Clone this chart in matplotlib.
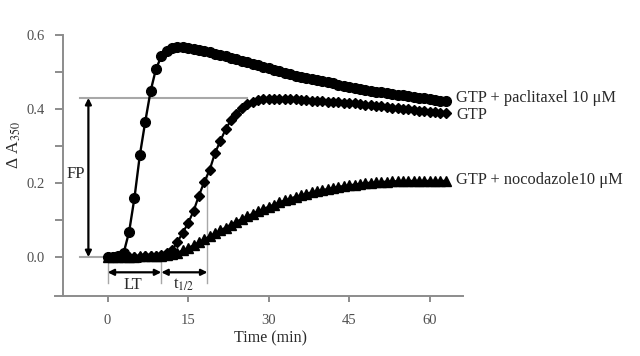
import matplotlib
matplotlib.use('Agg')
import matplotlib.pyplot as plt

# absorbance readings, one per minute
time_min = list(range(64))

paclitaxel = [0.000, 0.000, 0.002, 0.012, 0.068, 0.160, 0.275, 0.365, 0.448, 0.508,
              0.542, 0.557, 0.564, 0.567, 0.567, 0.565, 0.562, 0.559, 0.556, 0.553,
              0.549, 0.546, 0.542, 0.538, 0.534, 0.530, 0.526, 0.522, 0.518, 0.514,
              0.510, 0.506, 0.502, 0.498, 0.494, 0.490, 0.487, 0.484, 0.481, 0.478,
              0.475, 0.472, 0.469, 0.466, 0.463, 0.460, 0.457, 0.454, 0.451, 0.449,
              0.447, 0.445, 0.443, 0.441, 0.439, 0.437, 0.435, 0.433, 0.431, 0.429,
              0.427, 0.425, 0.423, 0.421]

gtp = [0.000, 0.000, 0.000, 0.000, 0.001, 0.001, 0.001, 0.002, 0.002, 0.003,
       0.006, 0.010, 0.018, 0.041, 0.066, 0.092, 0.124, 0.166, 0.203, 0.235,
       0.281, 0.314, 0.346, 0.370, 0.387, 0.402, 0.413, 0.420, 0.425, 0.427,
       0.428, 0.428, 0.428, 0.427, 0.427, 0.426, 0.425, 0.424, 0.423, 0.422,
       0.421, 0.420, 0.419, 0.418, 0.417, 0.416, 0.415, 0.413, 0.412, 0.410,
       0.409, 0.407, 0.405, 0.404, 0.402, 0.400, 0.399, 0.397, 0.396, 0.394,
       0.393, 0.391, 0.390, 0.388]

nocodazole = [0.000, 0.000, 0.000, 0.000, 0.001, 0.001, 0.002, 0.002, 0.003, 0.003,
              0.004, 0.005, 0.008, 0.012, 0.018, 0.025, 0.032, 0.040, 0.048, 0.056,
              0.064, 0.072, 0.080, 0.088, 0.096, 0.103, 0.110, 0.117, 0.124, 0.130,
              0.136, 0.142, 0.148, 0.153, 0.158, 0.163, 0.167, 0.171, 0.175, 0.178,
              0.181, 0.184, 0.187, 0.190, 0.192, 0.194, 0.196, 0.198, 0.200, 0.201,
              0.202, 0.203, 0.204, 0.205, 0.205, 0.206, 0.206, 0.206, 0.206, 0.206,
              0.206, 0.206, 0.206, 0.206]

series_labels = ['GTP + paclitaxel 10 \u03bcM', 'GTP', 'GTP + nocodazole10 \u03bcM']
label_y = [0.429, 0.384, 0.207]

x_ticks = [0, 15, 30, 45, 60]
y_ticks = [0.0, 0.1, 0.2, 0.3, 0.4, 0.5, 0.6]
y_ticklabels = ['0.0', '', '0.2', '', '0.4', '', '0.6']

# annotation levels
fp_level = 0.43
lag_time = 10.0
half_time = 18.6

plt.rcParams['font.family'] = ['Liberation Serif', 'DejaVu Serif']
plt.rcParams['mathtext.fontset'] = 'stix'

axis_grey = '#8c8c8c'
guide_grey = '#a8a8a8'
text_col = '#2a2a2a'

fig = plt.figure(figsize=(6.4, 3.56), dpi=100)
ax = fig.add_axes([55 / 640, 1 - 296 / 356, (463 - 55) / 640, (296 - 35) / 356])
ax.set_xlim(-9.8, 66.2)
ax.set_ylim(-0.105, 0.6)

for s in ['top', 'right']:
    ax.spines[s].set_visible(False)
ax.spines['left'].set_position(('data', -8.34))
for s in ['left', 'bottom']:
    ax.spines[s].set_color(axis_grey)
    ax.spines[s].set_linewidth(1.4)

ax.set_xticks(x_ticks)
ax.set_yticks(y_ticks)
ax.set_yticklabels(y_ticklabels)
ax.tick_params(axis='both', direction='out', color=axis_grey, width=1.4,
               labelcolor='#505050', labelsize=10.5)
ax.tick_params(axis='x', length=4, pad=9)
ax.tick_params(axis='y', length=6, pad=7)

# guide lines
ax.plot([-5.1, 26], [fp_level, fp_level], color=guide_grey, lw=1.5, zorder=1)
ax.plot([-5.1, 0], [0, 0], color=guide_grey, lw=1.5, zorder=1)
ax.plot([0, 0], [0, -0.071], color=guide_grey, lw=1, zorder=1)
ax.plot([lag_time, lag_time], [0, -0.071], color=guide_grey, lw=1, zorder=1)
ax.plot([half_time, half_time], [0.227, -0.071], color=guide_grey, lw=1, zorder=1)

# curves
ax.plot(time_min, nocodazole, '-^', color='black', ms=6.5, lw=1.6, zorder=3, clip_on=False)
ax.plot(time_min, gtp, '-D', color='black', ms=5.5, lw=1.6, zorder=4, clip_on=False)
ax.plot(time_min, paclitaxel, '-o', color='black', ms=7, lw=1.7, zorder=5, clip_on=False)

arrow = dict(arrowstyle='<|-|>', color='black', lw=1.6, mutation_scale=9,
             shrinkA=0, shrinkB=0)
ax.annotate('', xy=(-3.58, fp_level), xytext=(-3.58, 0.0), arrowprops=arrow)
ax.annotate('', xy=(0, -0.041), xytext=(lag_time, -0.041), arrowprops=arrow)
ax.annotate('', xy=(lag_time, -0.041), xytext=(half_time, -0.041), arrowprops=arrow)

ax.text(-5.9, 0.224, 'FP', ha='center', va='center', fontsize=12, color=text_col)
ax.text(4.8, -0.074, 'LT', ha='center', va='center', fontsize=12, color=text_col)
ax.text(14.2, -0.074, 't$_{1/2}$', ha='center', va='center', fontsize=12, color=text_col)

for lab, y in zip(series_labels, label_y):
    ax.text(64.9, y, lab, ha='left', va='center', fontsize=11.8, color=text_col, clip_on=False)

fig.text(14 / 640, 1 - 145 / 356, '\u0394 A$_{350}$', rotation=90, ha='center',
         va='center', fontsize=12.5, color=text_col)
fig.text(270 / 640, 1 - 338 / 356, 'Time (min)', ha='center', va='center',
         fontsize=11.5, color=text_col)

fig.savefig('out.png', dpi=100)
